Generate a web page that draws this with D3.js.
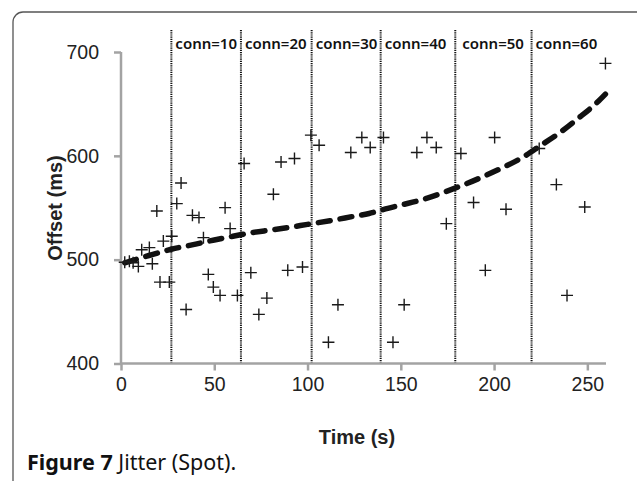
<!DOCTYPE html>
<html>
<head>
<meta charset="utf-8">
<script src="https://cdn.jsdelivr.net/npm/d3@7"></script>
<style>
  body { margin: 0; background: #fff; }
  svg { display: block; }
</style>
</head>
<body>
<div id="chart"></div>
<script>
// jitter points (time s, offset ms)
var timeVals = [2, 4.5, 6.5, 9.3, 11.1, 15.2, 16.8, 19.2, 20.9, 22.7, 25.9, 27.2, 29.9, 32.2, 34.9,
  38.3, 41.8, 44.2, 46.8, 49.5, 53.1, 55.8, 58.5, 62.4, 66, 69.6, 73.9, 78.2, 81.7, 85.8, 89.4, 93,
  97.3, 101.8, 106.2, 111.2, 116.3, 123.2, 129.1, 133.6, 140.7, 145.8, 151.8, 158.6, 164, 169,
  174.4, 182.2, 189, 195.3, 200.3, 206.4, 224.2, 233.4, 239.1, 248.6, 259.7];
var offsetVals = [497.5, 498.5, 497, 493.5, 509.6, 511.6, 496, 546.9, 478.4, 517.9, 478.4, 522.5, 554, 573.9, 452,
  542.7, 540.5, 521.2, 485.8, 473.6, 465.6, 550.1, 529.9, 465.6, 592.6, 487.5, 447.3, 463, 563, 594.1, 489.7, 597.4,
  492.9, 619.9, 610.2, 420.5, 456.6, 603.2, 617.6, 608, 617.6, 420.5, 456.6, 603.2, 617.6, 608,
  534.7, 602.2, 555, 489.7, 617.6, 548.5, 607, 572.3, 465.6, 550.7, 689];

// trend line
var trendT = [2, 15, 27, 40, 50, 60, 70, 80, 90, 100, 112, 124, 133, 143, 154, 165, 174, 185, 195, 205, 216, 225, 235, 245, 255, 260];
var trendY = [497, 504, 510, 515, 519, 522.5, 526, 528.5, 531, 534, 537.5, 541.5, 544.5, 549.4, 554.3, 559.7, 565.5, 573, 580.7, 589, 599.3, 610, 622, 636, 651, 660];

// connection markers
var connT = [27, 64.3, 102.2, 139.2, 179.2, 220.1];
var connLabels = ["conn=10", "conn=20", "conn=30", "conn=40", "conn=50", "conn=60"];

var xTicks = [0, 50, 100, 150, 200, 250];
var yTicks = [400, 500, 600, 700];

var W = 637, H = 481;
var svg = d3.select("#chart").append("svg")
  .attr("width", W)
  .attr("height", H);

// frame
svg.append("rect")
  .attr("x", 13).attr("y", 12)
  .attr("width", 700).attr("height", 600)
  .attr("rx", 10).attr("ry", 10)
  .attr("fill", "none")
  .attr("stroke", "#555")
  .attr("stroke-width", 1.3);

var x = d3.scaleLinear().domain([0, 260]).range([121, 606]);
var y = d3.scaleLinear().domain([400, 700]).range([363.5, 52]);

var axisColor = "#a3a3a3";
var tickFont = "'Liberation Sans', Arial, sans-serif";

// x axis
var xAxis = svg.append("g")
  .attr("transform", "translate(0," + y(400) + ")")
  .call(d3.axisBottom(x).tickValues(xTicks).tickSize(7).tickPadding(7));
xAxis.select(".domain").attr("stroke", axisColor).attr("stroke-width", 2.5)
  .attr("d", "M" + x(0) + ",0H" + x(260));
xAxis.selectAll(".tick line").attr("stroke", axisColor).attr("stroke-width", 2.5);
xAxis.selectAll(".tick text")
  .style("font-family", tickFont)
  .style("font-size", "19.5px")
  .attr("fill", "#222");

// y axis
var yAxis = svg.append("g")
  .attr("transform", "translate(" + x(0) + ",0)")
  .call(d3.axisLeft(y).tickValues(yTicks).tickSize(7).tickPadding(15));
yAxis.select(".domain").attr("stroke", axisColor).attr("stroke-width", 2.5)
  .attr("d", "M0," + y(700) + "V" + y(400));
yAxis.selectAll(".tick line").attr("stroke", axisColor).attr("stroke-width", 2.5);
yAxis.selectAll(".tick text")
  .style("font-family", tickFont)
  .style("font-size", "19.5px")
  .attr("fill", "#222");

// dotted connection lines
svg.selectAll(".conn")
  .data(connT)
  .enter()
  .append("line")
  .attr("class", "conn")
  .attr("x1", function(d) { return x(d); })
  .attr("x2", function(d) { return x(d); })
  .attr("y1", 30)
  .attr("y2", y(400) - 1)
  .attr("stroke", "#111")
  .attr("stroke-width", 2)
  .attr("stroke-dasharray", "1.2,1");

svg.selectAll(".connLabel")
  .data(connLabels)
  .enter()
  .append("text")
  .attr("class", "connLabel")
  .attr("x", function(d, i) { return x(connT[i]) + (i == 4 ? 7 : 4); })
  .attr("y", 49)
  .style("font-family", "'Noto Sans', sans-serif")
  .style("font-weight", "600")
  .style("font-size", "15px")
  .attr("fill", "#111")
  .text(function(d) { return d; });

// trend line
var trend = trendT.map(function(t, i) { return [t, trendY[i]]; });
svg.append("path")
  .datum(trend)
  .attr("d", d3.line()
    .x(function(d) { return x(d[0]); })
    .y(function(d) { return y(d[1]); })
    .curve(d3.curveMonotoneX))
  .attr("fill", "none")
  .attr("stroke", "#111")
  .attr("stroke-width", 5.5)
  .attr("stroke-linecap", "round")
  .attr("stroke-dasharray", "12,10");

// plus markers
var pts = timeVals.map(function(t, i) { return { t: t, v: offsetVals[i] }; });
var s = 6;
svg.selectAll(".pt")
  .data(pts)
  .enter()
  .append("path")
  .attr("class", "pt")
  .attr("d", function(d) {
    var cx = x(d.t), cy = y(d.v);
    return "M" + (cx - s) + "," + cy + "H" + (cx + s) + "M" + cx + "," + (cy - s) + "V" + (cy + s);
  })
  .attr("stroke", "#1a1a1a")
  .attr("stroke-width", 1.4)
  .attr("fill", "none");

// axis titles
svg.append("text")
  .attr("x", 357)
  .attr("y", 444)
  .attr("text-anchor", "middle")
  .style("font-family", tickFont)
  .style("font-weight", "bold")
  .style("font-size", "20px")
  .attr("fill", "#222")
  .text("Time (s)");

svg.append("text")
  .attr("transform", "translate(62,208) rotate(-90)")
  .attr("text-anchor", "middle")
  .style("font-family", tickFont)
  .style("font-weight", "bold")
  .style("font-size", "20px")
  .attr("fill", "#222")
  .text("Offset (ms)");

// caption
var cap = svg.append("text")
  .attr("x", 27)
  .attr("y", 470)
  .style("font-family", "'Noto Sans', sans-serif")
  .style("font-size", "21.5px")
  .attr("fill", "#111");
cap.append("tspan").style("font-weight", "bold").text("Figure 7");
cap.append("tspan").text(" Jitter (Spot).");
</script>
</body>
</html>
